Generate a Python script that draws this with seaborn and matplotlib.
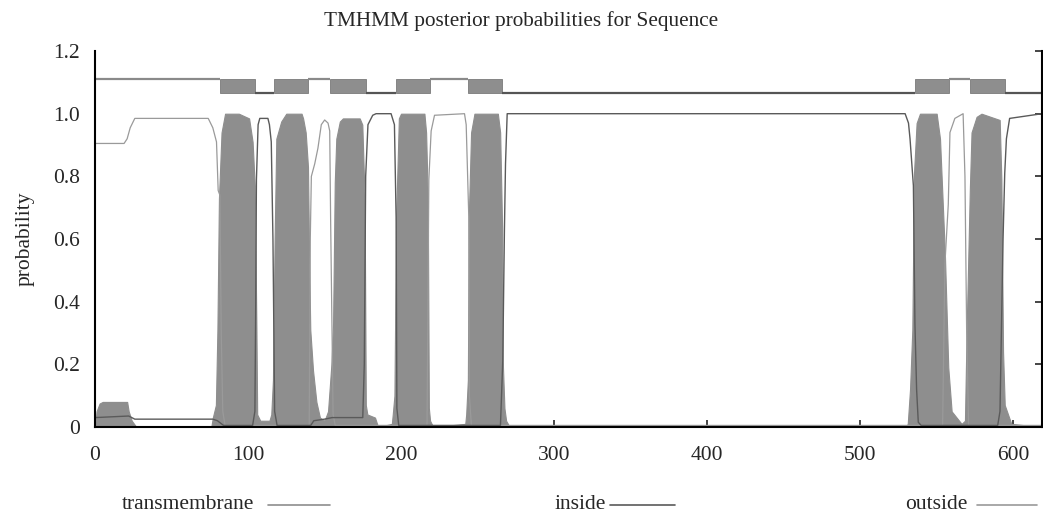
import matplotlib
matplotlib.use('Agg')
import matplotlib.pyplot as plt
import seaborn as sns
import pandas as pd

# posterior probabilities (residue, probability)
tm_pos = [0, 1, 3, 5, 21, 22, 24, 27, 76, 77, 79, 80, 81, 82.7, 85, 94, 100.7, 103, 104.4, 105.5, 106, 108,
          114, 115.2, 116.3, 117.4, 118.5, 121.7, 125, 135, 136, 137.7, 139.2, 140, 140.7, 142.5, 144.7, 147,
          150, 152.3, 154.5, 155.6, 156.7, 157.7, 160, 162, 173, 174.7, 176.2, 177, 178, 183, 185, 194, 194.6,
          195.7, 196.8, 198.6, 200, 215.3, 216.4, 217.5, 218.2, 219, 221, 242, 242.6, 243.7, 244.3, 245.8, 248,
          263.3, 264.8, 266.1, 266.5, 267.6, 268.7, 271, 530, 531.2, 532.7, 534.2, 535.3, 537, 539.2, 550.1,
          552.3, 555.5, 557.7, 559.9, 566.4, 568.6, 569.7, 571.8, 572.9, 576.2, 579.4, 591.3, 592.4, 593.5,
          594.6, 598.9, 619]
tm_prob = [0.0, 0.05, 0.075, 0.08, 0.08, 0.05, 0.02, 0.0, 0.0, 0.03, 0.07, 0.31, 0.73, 0.94, 1.0, 1.0, 0.985,
           0.91, 0.77, 0.31, 0.04, 0.02, 0.02, 0.04, 0.15, 0.6, 0.92, 0.975, 1.0, 1.0, 0.985, 0.94, 0.83, 0.52,
           0.31, 0.18, 0.08, 0.03, 0.02, 0.05, 0.2, 0.33, 0.78, 0.92, 0.975, 0.985, 0.985, 0.965, 0.73, 0.07,
           0.04, 0.03, 0.0, 0.01, 0.04, 0.1, 0.67, 0.985, 1.0, 1.0, 0.94, 0.73, 0.06, 0.02, 0.0, 0.01, 0.04,
           0.15, 0.67, 0.94, 1.0, 1.0, 0.94, 0.63, 0.21, 0.06, 0.02, 0.0, 0.0, 0.01, 0.12, 0.31, 0.81, 0.97,
           1.0, 1.0, 0.92, 0.55, 0.19, 0.05, 0.01, 0.02, 0.31, 0.76, 0.94, 0.99, 1.0, 0.98, 0.79, 0.24, 0.07,
           0.01, 0.0]

in_pos = [0, 22, 26, 77, 80, 84, 103, 104.5, 105, 105.5, 106.6, 107.7, 113, 114, 115.2, 116.3, 117.4, 119,
          141, 143, 150, 155, 175, 176, 176.9, 178.4, 181.5, 183.7, 193.5, 195.7, 196.8, 197.3, 198.5, 265,
          266.5, 267.6, 268.3, 269.4, 529.5, 531.7, 532.7, 534.9, 535.9, 537, 538.1, 540, 590, 591.5, 592.4,
          593.5, 594.6, 595.7, 597.8, 619]
in_prob = [0.03, 0.035, 0.025, 0.025, 0.02, 0.005, 0.005, 0.05, 0.36, 0.79, 0.965, 0.985, 0.985, 0.965, 0.91,
           0.6, 0.05, 0.005, 0.005, 0.02, 0.025, 0.03, 0.03, 0.2, 0.8, 0.965, 0.995, 1.0, 1.0, 0.965, 0.67,
           0.06, 0.005, 0.005, 0.21, 0.63, 0.84, 1.0, 1.0, 0.97, 0.92, 0.77, 0.33, 0.12, 0.015, 0.005, 0.005,
           0.05, 0.3, 0.6, 0.81, 0.92, 0.985, 1.0]

out_pos = [0, 19, 21, 23, 24, 26, 74, 77, 79.4, 80.5, 81.6, 82.5, 83.5, 85, 140, 140.7, 141.4, 143.6, 145.7,
           147.9, 150.1, 152.3, 153.4, 154, 154.9, 155.6, 157, 217, 218.2, 219.7, 221.9, 241.5, 242.6, 244.3,
           244.7, 246, 554, 555.5, 557.7, 558.8, 562, 567.4, 568.6, 569.7, 571, 619]
out_prob = [0.905, 0.905, 0.92, 0.955, 0.965, 0.985, 0.985, 0.955, 0.91, 0.755, 0.74, 0.3, 0.05, 0.005, 0.005,
            0.6, 0.8, 0.84, 0.89, 0.965, 0.98, 0.97, 0.945, 0.66, 0.31, 0.04, 0.005, 0.005, 0.79, 0.945, 0.995,
            1.0, 0.965, 0.67, 0.1, 0.005, 0.005, 0.52, 0.71, 0.94, 0.985, 1.0, 0.8, 0.31, 0.005, 0.005]

# predicted topology (top band)
topo_start = [0, 81.5, 104.8, 117, 139.2, 153.7, 176.8, 196.8, 219.2, 243.5, 265.7, 536, 558, 572, 595]
topo_end = [81.5, 104.8, 117, 139.2, 153.7, 176.8, 196.8, 219.2, 243.5, 265.7, 536, 558, 572, 595, 619]
topo_state = ['outside', 'TMhelix', 'inside', 'TMhelix', 'outside', 'TMhelix', 'inside', 'TMhelix',
              'outside', 'TMhelix', 'inside', 'TMhelix', 'outside', 'TMhelix', 'inside']

sns.set_style('white')
plt.rcParams['font.family'] = ['Liberation Serif', 'DejaVu Serif']
plt.rcParams['font.size'] = 15

tm_col = '#8e8e8e'
in_col = '#5a5a5a'
out_col = '#9a9a9a'

fig = plt.figure(figsize=(10.43, 5.15), dpi=100)
ax = fig.add_axes([0.0911, 0.1709, 0.908, 0.730])

# transmembrane probability as filled area
ax.fill_between(tm_pos, 0, tm_prob, color=tm_col, linewidth=0.8, edgecolor=tm_col)

df_in = pd.DataFrame({'pos': in_pos, 'prob': in_prob})
df_out = pd.DataFrame({'pos': out_pos, 'prob': out_prob})
sns.lineplot(data=df_out, x='pos', y='prob', ax=ax, color=out_col, linewidth=0.9,
             estimator=None, sort=False)
sns.lineplot(data=df_in, x='pos', y='prob', ax=ax, color=in_col, linewidth=1.0,
             estimator=None, sort=False)

# topology band
for s, e, st in zip(topo_start, topo_end, topo_state):
    if st == 'TMhelix':
        ax.bar(s, 0.045, width=e - s, bottom=1.066, align='edge', color=tm_col,
               edgecolor='#7a7a7a', linewidth=0.6)
    elif st == 'outside':
        ax.hlines(1.11, s, e, color='#8a8a8a', linewidth=1.6)
    else:
        ax.hlines(1.066, s, e, color='#555555', linewidth=1.6)

ax.set_xlim(0, 619)
ax.set_ylim(0, 1.2)
ax.set_xticks([0, 100, 200, 300, 400, 500, 600])
ax.set_yticks([0, 0.2, 0.4, 0.6, 0.8, 1.0, 1.2])
ax.set_yticklabels(['0', '0.2', '0.4', '0.6', '0.8', '1.0', '1.2'])
ax.set_xlabel('')
ax.set_ylabel('probability', fontsize=15.5, labelpad=13)
fig.text(0.5, 0.959, 'TMHMM posterior probabilities for Sequence', ha='center', va='center',
         fontsize=15.3)

for side in ['left', 'bottom', 'right']:
    ax.spines[side].set_color('black')
    ax.spines[side].set_linewidth(1.5)
ax.spines['top'].set_visible(False)
ax.tick_params(axis='both', direction='in', length=5, width=1.2, labelsize=15.5)
ax.tick_params(axis='y', right=True, labelright=False, pad=11)
ax.tick_params(axis='x', bottom=True, pad=14)

# legend row below the plot
legend_items = [('transmembrane', 254, 268, 330, tm_col), ('inside', 606, 610, 675, in_col),
                ('outside', 968, 977, 1037, out_col)]
W = 1043.0
for name, tx, l0, l1, col in legend_items:
    fig.text(tx / W, 0.012, name, ha='right', va='baseline', fontsize=15.5)
    fig.add_artist(plt.Line2D([l0 / W, l1 / W], [0.0185, 0.0185], color=col, linewidth=1.2))

fig.savefig('out.png', dpi=100)
